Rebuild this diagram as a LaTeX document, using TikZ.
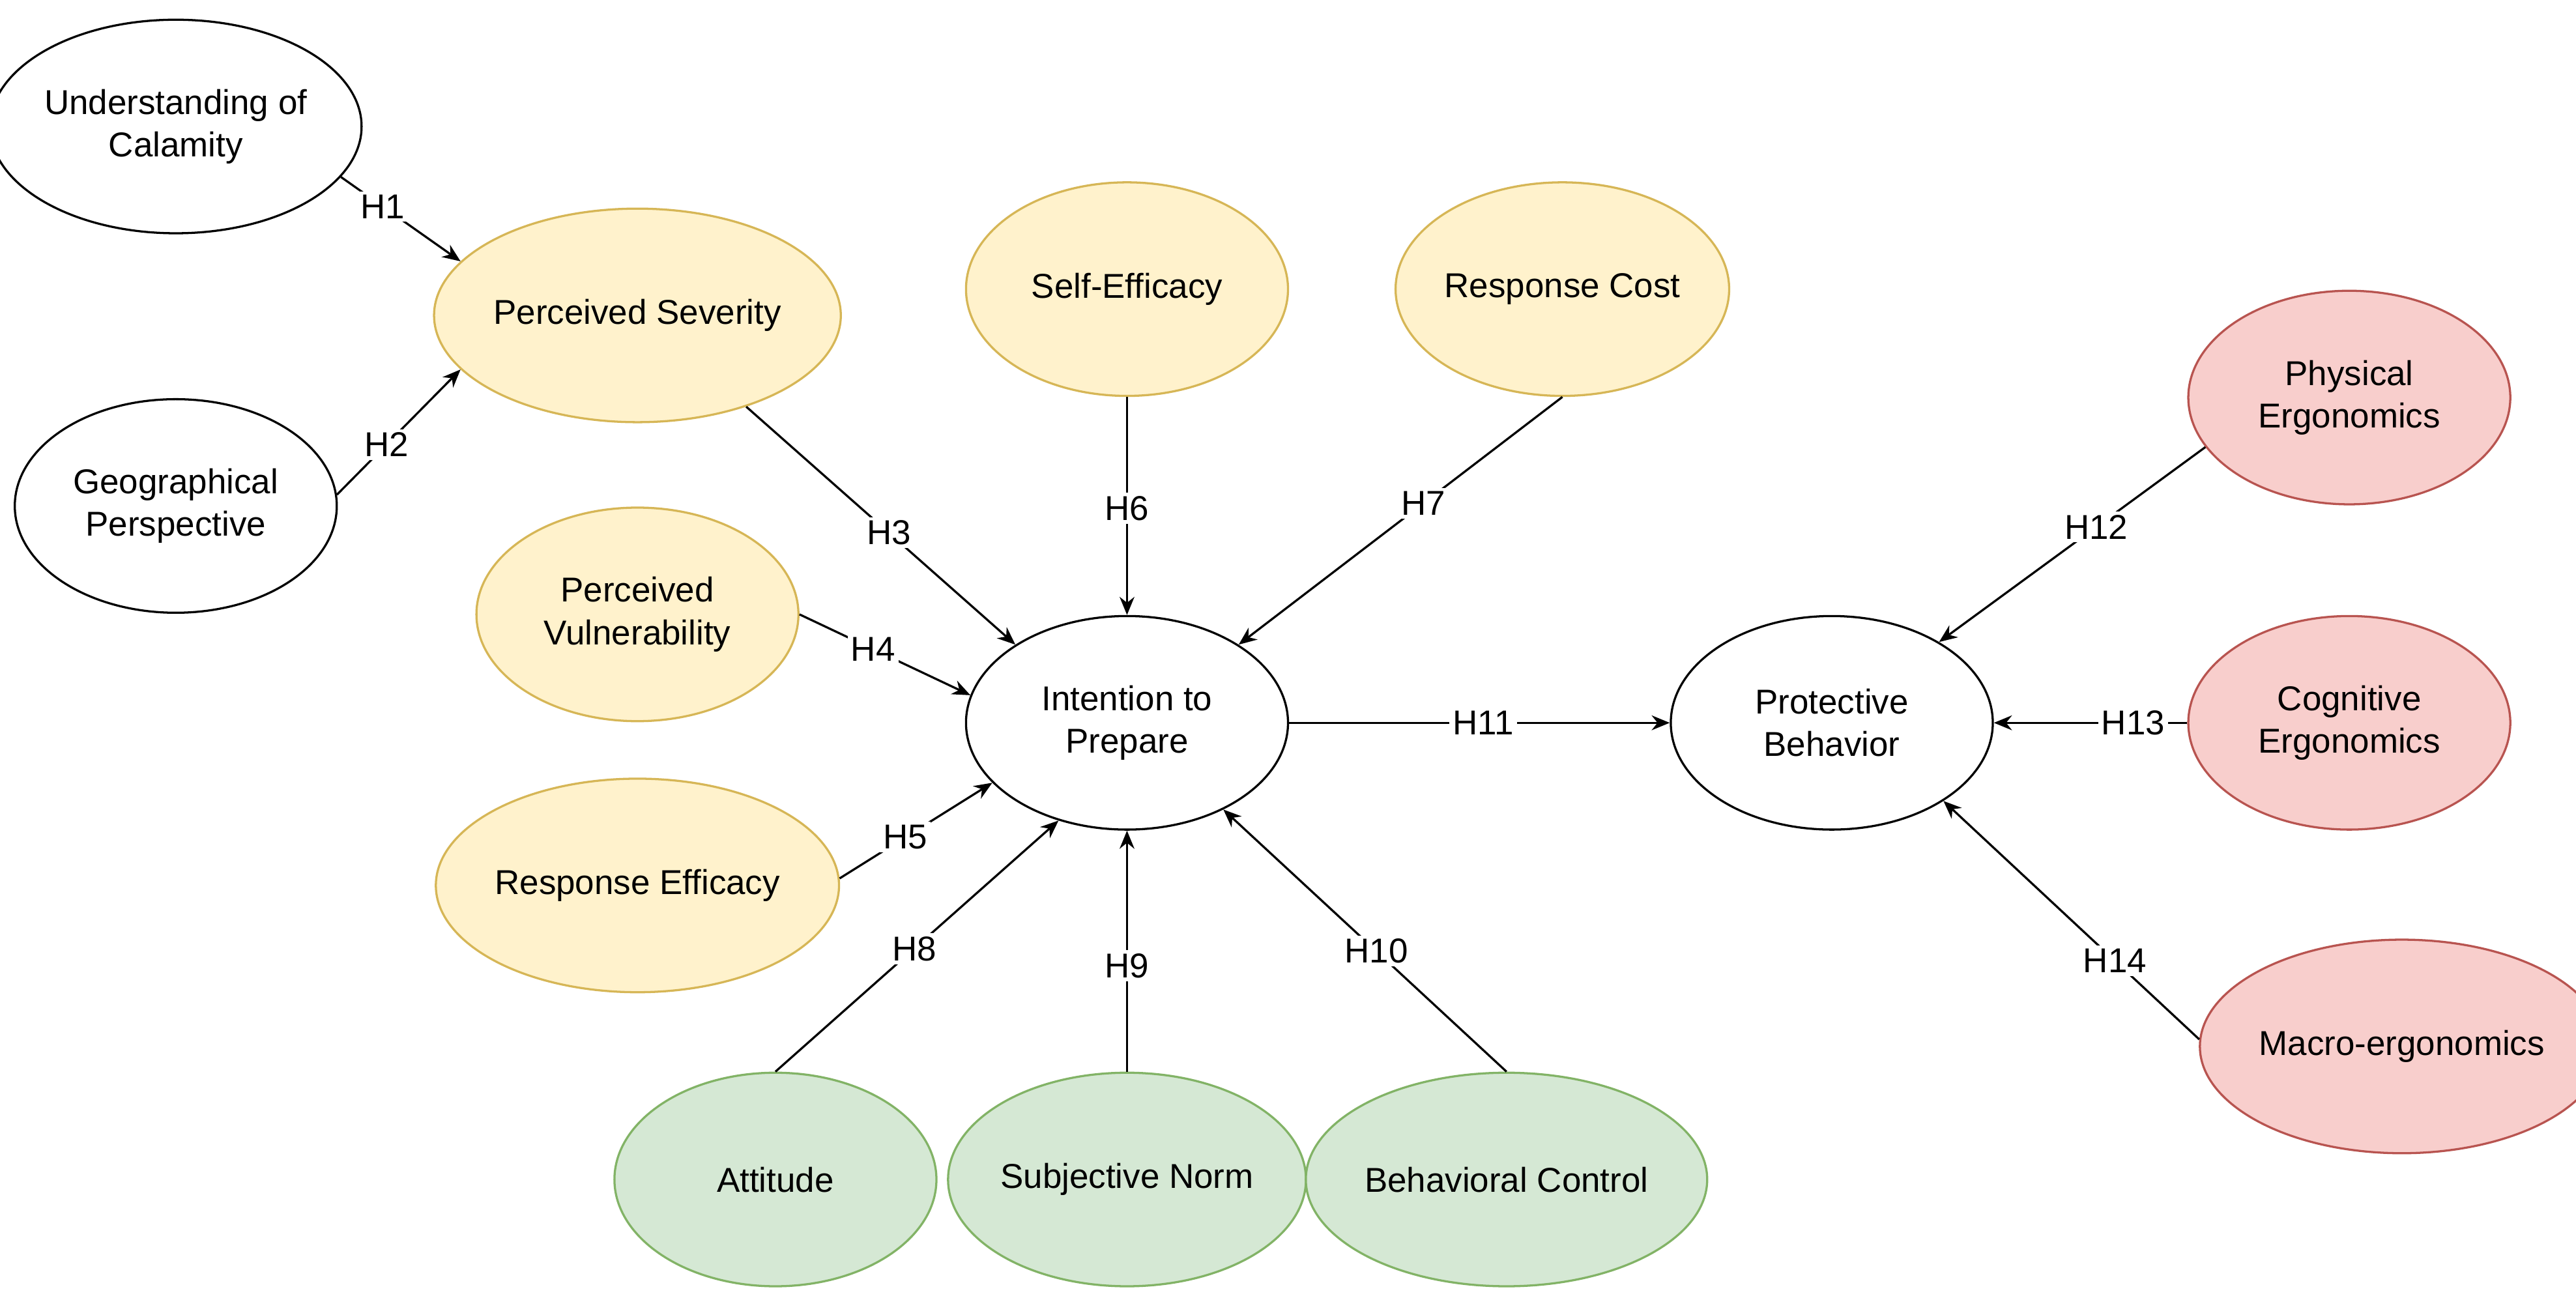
\documentclass[tikz,border=0pt]{standalone}
\usepackage{fontspec}
\setmainfont{Liberation Sans}
\usetikzlibrary{shapes.geometric,arrows.meta}
\definecolor{yf}{HTML}{FFF2CC}\definecolor{yd}{HTML}{D6B656}
\definecolor{gf}{HTML}{D5E8D4}\definecolor{gd}{HTML}{82B366}
\definecolor{rf}{HTML}{F8CECC}\definecolor{rd}{HTML}{B85450}
\begin{document}
\begin{tikzpicture}[x=1pt,y=-1pt,
  el/.style={ellipse,draw=black,line width=1.3pt,minimum width=196pt,minimum height=130pt,inner sep=0pt,align=center,font=\fontsize{21}{26}\selectfont},
  yel/.style={el,fill=yf,draw=yd},
  grn/.style={el,fill=gf,draw=gd},
  red/.style={el,fill=rf,draw=rd},
  ar/.style={line width=1.3pt,-{Stealth[length=11pt,width=9pt]}},
  lb/.style={fill=white,inner sep=2pt,font=\fontsize{21}{26}\selectfont}]
\useasboundingbox (0,0) rectangle (1568,799);
\node[el] (uc) at (107,77) {Understanding of\\Calamity};
\node[el] (gp) at (107,308) {Geographical\\Perspective};
\node[yel] (ps) at (388,192) {Perceived Severity};
\node[yel] (se) at (686,176) {Self-Efficacy};
\node[yel] (rc) at (951,176) {Response Cost};
\node[yel] (pv) at (388,374) {Perceived\\Vulnerability};
\node[yel] (re) at (388,539) {Response Efficacy};
\node[el] (ip) at (686,440) {Intention to\\Prepare};
\node[el] (pb) at (1115,440) {Protective\\Behavior};
\node[red] (phe) at (1430,242) {Physical\\Ergonomics};
\node[red] (ce) at (1430,440) {Cognitive\\Ergonomics};
\node[red] (me) at (1462,637) {Macro-ergonomics};
\node[grn] (att) at (472,718) {Attitude};
\node[grn] (sn) at (686,718) {Subjective Norm};
\node[grn] (bc) at (917,718) {Behavioral Control};
\draw[ar] (uc.-17) -- node[lb,pos=0.35] {H1} (ps.163);
\draw[ar] (gp.4) -- node[lb,pos=0.4] {H2} (ps.197);
\draw[ar] (ps.-40) -- node[lb,pos=0.53] {H3} (ip.145);
\draw[ar] (pv.0) -- node[lb,pos=0.43] {H4} (ip.170);
\draw[ar] (re.2) -- node[lb,pos=0.43] {H5} (ip.204);
\draw[ar] (se.south) -- node[lb,pos=0.51] {H6} (ip.north);
\draw[ar] (rc.south) -- node[lb,pos=0.43] {H7} (ip.35);
\draw[ar] (att.north) -- node[lb,pos=0.49] {H8} (ip.235);
\draw[ar] (sn.north) -- node[lb,pos=0.44] {H9} (ip.south);
\draw[ar] (bc.north) -- node[lb,pos=0.46] {H10} (ip.-42);
\draw[ar] (ip.east) -- node[lb,pos=0.51] {H11} (pb.west);
\draw[ar] (phe.199) -- node[lb,pos=0.41] {H12} (pb.37);
\draw[ar] (ce.west) -- node[lb,pos=0.28] {H13} (pb.east);
\draw[ar] (me.178) -- node[lb,pos=0.33] {H14} (pb.-35);
\end{tikzpicture}
\end{document}
